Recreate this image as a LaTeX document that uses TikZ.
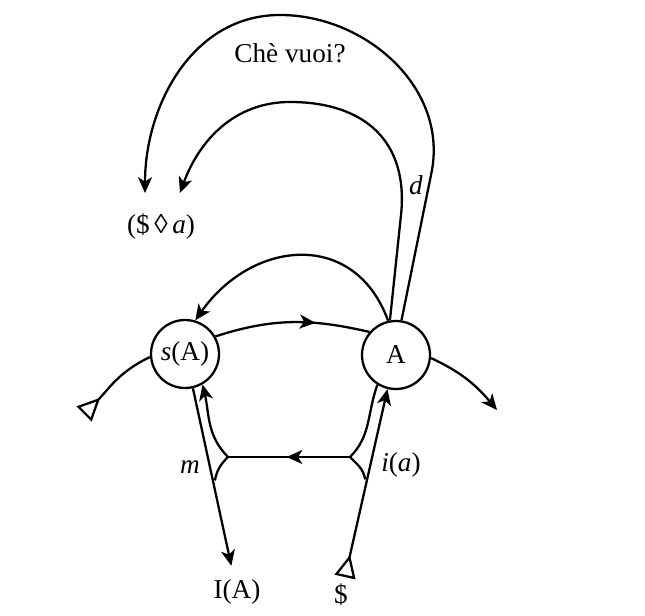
\documentclass[tikz,border=0pt]{standalone}
\usepackage{fontspec}
\setmainfont{Liberation Serif}
\usetikzlibrary{arrows.meta, calc, decorations.markings}

\begin{document}
\begin{tikzpicture}[x=0.02cm, y=0.02cm, line width=1.3pt,
    font=\fontsize{15.5}{18}\selectfont,
    >={Stealth[length=9pt, width=8pt, inset=2.5pt]},
    tri/.tip={Triangle[open, reversed, length=13pt, width=12pt]},
    spot/.style={circle, draw, minimum size=1.36cm, inner sep=0pt},
    midarrow/.style={postaction={decorate}, decoration={markings,
        mark=at position #1 with {\arrow{>}}}}]
  \useasboundingbox (0,0) rectangle (645,615);

  % the two places of the chain
  \node[spot] (sA) at (185,261) {\textit{s}(A)};
  \node[spot] (A) at (396,260) {A};

  % texts
  \node (SD) at (161,388) {(\$\,◊\,\textit{a})};
  \node (CV) at (290,562) {Chè vuoi?};
  \node (IA) at (237,23) {I(A)};
  \node (S) at (341,20) {\$};
  \node (m) at (190,148) {\textit{m}};
  \node (ia) at (401,150) {\textit{i}(\textit{a})};
  \node (d) at (416,430) {\textit{d}};

  \coordinate (lTail) at (84,201);
  \coordinate (rEnd) at (497,205);
  \coordinate (sdL) at (145,422);
  \coordinate (sdR) at (180,422);
  \coordinate (jL) at (228,158);
  \coordinate (jR) at (350,158);

  % signifying chain
  \draw[tri-] (lTail) to[out=45, in=205] (sA.185);
  \draw[midarrow=0.65] (sA.30) to[out=18, in=167] (A.139);
  \draw[->] (A.-5) to[out=-25, in=130] (rEnd);
  \draw[->] (A.103) to[out=110, in=55, looseness=1.3] (sA.73);

  % upper loops
  \draw[->] (A.100) -- (401,400) to[out=84, in=0, looseness=1.2] (290,513)
    to[out=180, in=70] (sdR);
  \draw[->] (A.81) -- (432,445) to[out=80, in=0] (280,600)
    to[out=180, in=90] (sdL);

  % lower part
  \draw[->, shorten >=4pt] (sA.-77) -- (IA);
  \draw[tri->] (S) -- (A.256);
  \coordinate (mL) at ($(sA.-77)!0.5!(IA.north)$);
  \coordinate (mR) at ($(S.north)!0.52!(A.256)$);
  \draw[midarrow=0.52] (jR) -- (jL);
  \draw[->] (jL) to[out=135, in=-77] (sA.-60);
  \draw (jL) to[out=225, in=80] (mL);
  \draw (jR) to[out=45, in=-110] (A.238);
  \draw (jR) to[out=-45, in=100] (mR);
\end{tikzpicture}
\end{document}
